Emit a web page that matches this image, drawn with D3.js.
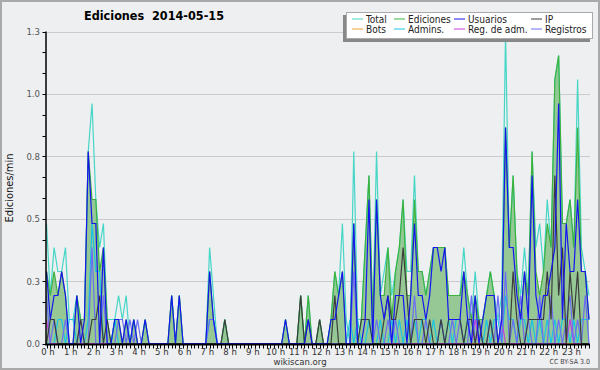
<!DOCTYPE html>
<html>
<head>
<meta charset="utf-8">
<script src="https://cdn.jsdelivr.net/npm/d3@7"></script>
<style>
  body { margin: 0; background: #fff; }
  svg { display: block; }
  text { font-family: "DejaVu Sans Condensed", "DejaVu Sans", sans-serif; }
</style>
</head>
<body>
<div id="chart"></div>
<script>
// edits per 10-minute bin, 6 bins per hour (one row per hour)
const binMinutes = 10;
const title = "Ediciones  2014-05-15";
const yLabel = "Ediciones/min";
const yMax = 1.3;
const yTickLabels = ["0.0", "0.3", "0.5", "0.8", "1.0", "1.3"];
const hourLabels = ["0 h","1 h","2 h","3 h","4 h","5 h","6 h","7 h","8 h","9 h","10 h","11 h",
  "12 h","13 h","14 h","15 h","16 h","17 h","18 h","19 h","20 h","21 h","22 h","23 h"];

const total = [
  5,2,4,3,3,4,  1,1,2,1,1,8,  10,6,4,5,1,1,  1,2,1,2,0,1,
  0,0,1,0,0,0,  0,0,0,2,0,2,  0,0,0,0,0,0,   0,4,2,0,0,1,
  0,0,0,0,0,0,  0,0,0,0,0,0,  0,0,0,1,0,0,   0,2,0,2,0,0,
  1,0,0,1,3,2,  5,1,0,8,1,1,  4,7,1,8,2,3,   4,2,3,4,6,3,
  3,7,3,3,2,3,  4,4,4,4,2,2,  2,2,4,2,1,3,   1,1,2,3,2,1,
  2,13,4,7,3,2, 4,2,8,4,5,3,  6,4,11,12,5,5, 6,4,11,4,3,2
];
const ediciones = [
  3,2,3,2,3,2,  0,0,2,1,1,8,  6,6,3,4,1,0,   1,1,0,1,0,1,
  0,0,1,0,0,0,  0,0,0,2,0,2,  0,0,0,0,0,0,   0,3,1,0,0,1,
  0,0,0,0,0,0,  0,0,0,0,0,0,  0,0,0,1,0,0,   0,2,0,2,0,0,
  1,0,0,1,3,2,  3,0,0,5,0,1,  4,7,1,6,2,2,   4,1,3,4,6,2,
  2,6,3,3,2,3,  4,4,4,4,2,2,  2,2,3,2,1,2,   1,1,2,3,2,0,
  1,9,4,7,3,1,  3,2,8,3,2,3,  5,4,11,12,5,5, 6,4,9,3,3,1
];
const usuarios = [
  3,1,2,2,3,2,  0,0,2,0,1,8,  5,5,0,4,0,0,   1,1,0,1,0,1,
  0,0,1,0,0,0,  0,0,0,2,0,2,  0,0,0,0,0,0,   0,3,1,0,0,0,
  0,0,0,0,0,0,  0,0,0,0,0,0,  0,0,0,1,0,0,   0,0,0,1,0,0,
  0,0,0,1,1,2,  3,0,0,5,0,0,  1,6,0,6,2,1,   2,0,2,2,2,0,
  2,5,2,2,1,2,  4,4,3,4,1,1,  1,1,3,1,0,2,   0,1,2,2,2,0,
  1,9,4,4,2,1,  3,1,7,2,1,2,  2,3,4,10,1,5,  3,3,6,3,3,1
];
const ip = [
  0,1,1,0,0,0,  0,0,0,1,0,0,  1,1,2,0,1,0,   0,0,0,0,0,0,
  0,0,0,0,0,0,  0,0,0,0,0,0,  0,0,0,0,0,0,   0,0,0,0,0,1,
  0,0,0,0,0,0,  0,0,0,0,0,0,  0,0,0,0,0,0,   0,2,0,1,0,0,
  1,0,0,0,2,0,  0,0,0,0,0,1,  1,1,0,0,0,1,   2,1,1,2,4,2,
  0,1,1,1,0,1,  0,0,1,0,1,1,  1,1,0,1,1,0,   1,0,0,1,0,0,
  0,0,0,3,1,0,  0,1,1,1,1,1,  3,1,7,2,4,0,   3,1,3,0,0,0
];
const bots = [
  0,0,0,0,0,0,  0,0,0,0,0,0,  0,0,0,0,0,0,   0,0,0,0,0,0,
  0,0,0,0,0,0,  0,0,0,0,0,0,  0,0,0,0,0,0,   0,0,0,0,0,0,
  0,0,0,0,0,0,  0,0,0,0,0,0,  0,0,0,0,0,0,   0,0,0,0,0,0,
  0,0,0,0,0,0,  0,0,0,0,0,0,  0,0,0,0,0,0,   0,0,0,0,0,0,
  0,0,0,0,0,0,  0,0,0,0,0,0,  0,0,0,0,0,0,   0,0,0,0,0,0,
  0,0,0,0,0,0,  0,0,0,0,0,0,  0,0,0,0,0,0,   0,0,0,0,0,0
];
const admins = [
  0,0,0,1,1,0,  1,1,0,0,0,1,  5,3,3,0,0,0,   1,0,0,0,0,0,
  0,0,0,0,0,0,  0,0,0,0,0,0,  0,0,0,0,0,0,   0,1,1,0,0,0,
  0,0,0,0,0,0,  0,0,0,0,0,0,  0,0,0,0,0,0,   0,0,0,0,0,0,
  0,0,0,0,0,0,  0,0,1,0,1,0,  0,1,0,0,1,0,   0,1,0,1,0,1,
  0,1,0,1,1,0,  1,0,1,0,1,0,  1,1,0,1,0,1,   1,0,1,0,1,1,
  0,2,1,1,0,1,  1,0,1,0,1,0,  1,0,1,0,1,1,   0,1,0,1,1,1
];
const regAdm = [
  1,0,0,0,0,0,  0,0,0,0,0,0,  0,0,0,0,0,0,   0,0,0,0,0,0,
  0,0,0,0,0,0,  0,0,0,0,0,0,  0,0,0,0,0,0,   0,0,0,0,0,0,
  0,0,0,0,0,0,  0,0,0,0,0,0,  0,0,0,0,0,0,   0,0,0,0,0,0,
  0,0,0,0,0,0,  0,0,0,0,0,0,  0,0,0,0,0,0,   0,0,0,0,0,0,
  0,0,0,0,0,0,  0,0,0,0,0,0,  0,0,0,0,0,1,   0,0,0,0,0,0,
  1,0,0,0,0,0,  0,0,0,0,0,0,  0,0,0,0,0,0,   1,0,0,0,0,0
];
const registros = [
  2,0,1,0,0,1,  0,0,0,1,0,0,  4,0,0,2,0,0,   0,1,1,0,1,0,
  1,0,0,0,0,0,  0,0,0,0,0,0,  0,0,0,0,0,0,   0,1,1,0,0,0,
  0,0,0,0,0,0,  0,0,0,0,0,0,  0,0,0,0,0,0,   0,0,0,0,0,0,
  0,0,0,0,0,0,  0,0,0,3,0,0,  0,0,0,1,0,0,   1,0,1,0,0,0,
  0,2,0,0,1,0,  0,0,1,0,0,1,  0,1,0,0,2,0,   1,0,0,1,0,2,
  0,3,0,1,0,2,  0,1,0,0,2,0,  0,2,0,1,0,1,   2,0,1,0,2,0
];

const series = [
  {name: "Total",        data: total,     color: "#45d6c6"},
  {name: "Ediciones",    data: ediciones, color: "#3cb23c"},
  {name: "Usuarios",     data: usuarios,  color: "#1515f0"},
  {name: "IP",           data: ip,        color: "#3c3c3c"},
  {name: "Bots",         data: bots,      color: "#f0a030"},
  {name: "Admins.",      data: admins,    color: "#18c4e4"},
  {name: "Reg. de adm.", data: regAdm,    color: "#c83ce0"},
  {name: "Registros",    data: registros, color: "#6c6cf4"}
];
const byName = Object.fromEntries(series.map(s => [s.name, s]));

const width = 600, height = 370;
const svg = d3.select("#chart").append("svg")
  .attr("width", width).attr("height", height);

svg.append("rect").attr("x", 1).attr("y", 1)
  .attr("width", width - 2).attr("height", height - 2)
  .attr("fill", "#eeeff1").attr("stroke", "#a9a9a9").attr("stroke-width", 2);

const x = d3.scaleLinear().domain([0, total.length - 1]).range([46.5, 589]);
const y = d3.scaleLinear().domain([0, yMax]).range([343.5, 31.5]);
const val = d => d / binMinutes;

// grid
const majors = d3.range(yTickLabels.length).map(k => yMax * k / (yTickLabels.length - 1));
svg.append("g").selectAll("line").data(majors.slice(1)).join("line")
  .attr("x1", x(0)).attr("x2", 590)
  .attr("y1", d => Math.round(y(d)) + 0.5).attr("y2", d => Math.round(y(d)) + 0.5)
  .attr("stroke", "#cbcbcb");

// Ediciones area
svg.append("path").datum(ediciones)
  .attr("fill", "#96c896")
  .attr("d", d3.area().x((d, i) => x(i)).y0(y(0)).y1(d => y(val(d))));

const line = d3.line().x((d, i) => x(i)).y(d => y(val(d)));
const drawOrder = ["Total", "Ediciones", "Bots", "Admins.", "Reg. de adm.", "Registros", "IP", "Usuarios"];
svg.append("g").selectAll("path").data(drawOrder.map(n => byName[n])).join("path")
  .attr("fill", "none")
  .attr("stroke", s => s.color)
  .attr("stroke-width", 1.2)
  .attr("stroke-linejoin", "miter")
  .attr("d", s => line(s.data));

// y axis
const minor = d3.range(0, 16).map(k => yMax * k / 15);
const yAxis = svg.append("g");
yAxis.append("line").attr("x1", 46).attr("x2", 46).attr("y1", y(yMax)).attr("y2", y(0) + 1)
  .attr("stroke", "#000").attr("stroke-width", 1.5);
yAxis.selectAll(".mn").data(minor).join("line")
  .attr("x1", 42.5).attr("x2", 46)
  .attr("y1", d => Math.round(y(d)) + 0.5).attr("y2", d => Math.round(y(d)) + 0.5)
  .attr("stroke", "#000");
yAxis.selectAll("text").data(majors).join("text")
  .attr("x", 40).attr("y", d => y(d) + 3.5)
  .attr("text-anchor", "end").attr("font-size", 9.5).attr("fill", "#555")
  .text((d, i) => yTickLabels[i]);

// x axis
const xAxis = svg.append("g");
xAxis.append("line").attr("x1", 45).attr("x2", 590).attr("y1", 344.5).attr("y2", 344.5)
  .attr("stroke", "#000").attr("stroke-width", 2);
xAxis.selectAll(".tk").data(d3.range(total.length)).join("line")
  .attr("x1", i => Math.round(x(i)) + 0.5).attr("x2", i => Math.round(x(i)) + 0.5)
  .attr("y1", 344).attr("y2", 348.5)
  .attr("stroke", "#000");
xAxis.selectAll("text").data(hourLabels).join("text")
  .attr("x", (d, h) => x(h * 60 / binMinutes) + 1.5).attr("y", 354.5)
  .attr("text-anchor", "middle").attr("font-size", 9.5).attr("fill", "#333")
  .text(d => d);

// titles
svg.append("text").attr("x", 154).attr("y", 20)
  .attr("text-anchor", "middle").attr("font-size", 12.5).attr("font-weight", "bold")
  .style("white-space", "pre").text(title);
svg.append("text").attr("transform", "translate(13,188) rotate(-90)")
  .attr("text-anchor", "middle").attr("font-size", 11).attr("fill", "#111")
  .text(yLabel);
svg.append("text").attr("x", 300).attr("y", 364.5)
  .attr("text-anchor", "middle").attr("font-size", 9.5).attr("fill", "#333")
  .text("wikiscan.org");
svg.append("text").attr("x", 590).attr("y", 364)
  .attr("text-anchor", "end").attr("font-size", 7).attr("fill", "#444")
  .text("CC BY-SA 3.0");

// legend
const lg = svg.append("g");
lg.append("rect").attr("x", 343).attr("y", 15).attr("width", 247).attr("height", 27).attr("fill", "#888");
lg.append("rect").attr("x", 346.5).attr("y", 12.5).attr("width", 246).attr("height", 26)
  .attr("fill", "#fff").attr("stroke", "#aaa");
const colX = [366, 408, 468, 545];
const item = lg.selectAll(".it").data(series).join("g")
  .attr("transform", (s, i) => `translate(${colX[i % 4]},${i < 4 ? 22.5 : 32.5})`);
item.append("line").attr("x1", -14).attr("x2", -3).attr("y1", -3.5).attr("y2", -3.5)
  .attr("stroke", s => s.color).attr("stroke-width", 1);
item.append("text").attr("font-size", 10).attr("fill", "#222").text(s => s.name);
</script>
</body>
</html>
